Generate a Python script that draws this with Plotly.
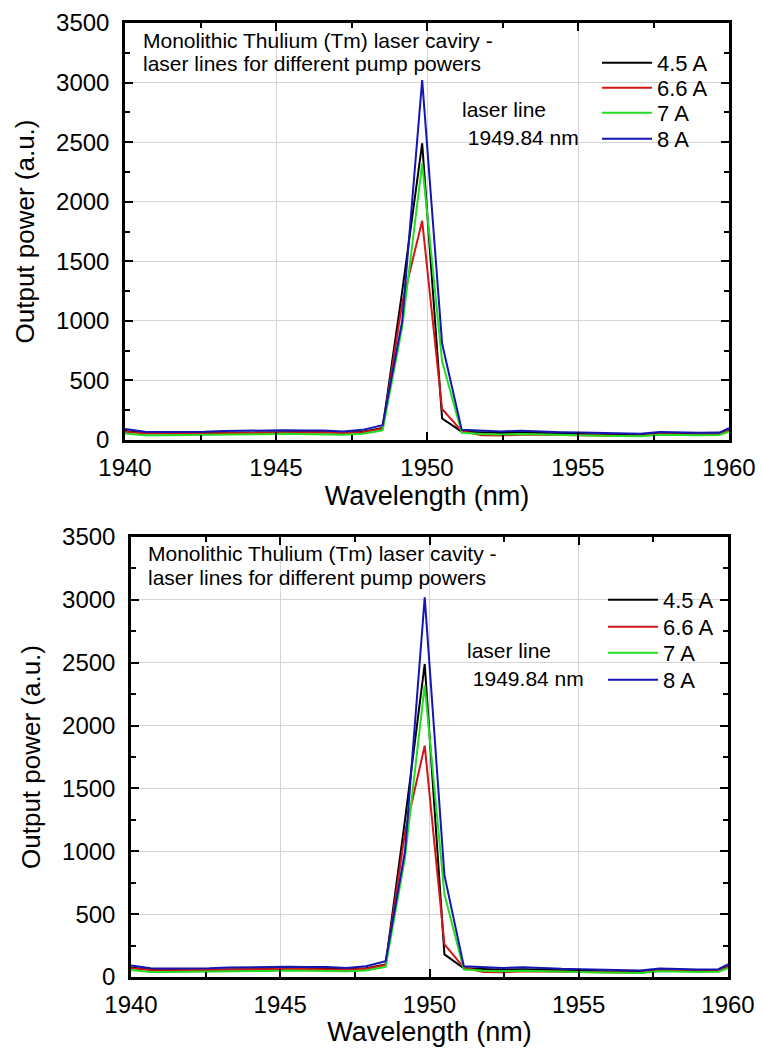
import plotly.graph_objects as go

# ---------------- data ----------------
wavelength = [1940.00, 1940.66, 1941.31, 1941.97, 1942.62, 1943.28, 1943.94, 1944.59,
              1945.25, 1945.90, 1946.56, 1947.22, 1947.87, 1948.53, 1949.18, 1949.84,
              1950.50, 1951.15, 1951.81, 1952.46, 1953.12, 1953.78, 1954.43, 1955.09,
              1955.74, 1956.40, 1957.06, 1957.71, 1958.37, 1959.02, 1959.68, 1960.00]

series_names = ["4.5 A", "6.6 A", "7 A", "8 A"]

p_4_5A = [75, 58, 56, 57, 58, 62, 64, 64, 68, 66, 67, 60, 70, 100, 1250, 2490,
          180, 70, 62, 58, 62, 56, 52, 50, 46, 42, 40, 55, 50, 48, 50, 85]
p_6_6A = [70, 55, 54, 55, 56, 60, 62, 62, 66, 64, 64, 58, 66, 95, 1150, 1840,
          260, 75, 40, 38, 45, 44, 42, 40, 38, 36, 34, 50, 46, 45, 47, 80]
p_7A   = [55, 40, 40, 41, 42, 46, 48, 48, 52, 50, 51, 45, 52, 80, 950, 2320,
          660, 60, 50, 46, 50, 45, 42, 40, 36, 34, 32, 45, 40, 40, 42, 70]
p_8A   = [92, 70, 68, 68, 70, 75, 78, 78, 82, 80, 80, 72, 85, 125, 1000, 3020,
          810, 85, 80, 72, 78, 70, 65, 62, 60, 55, 52, 68, 62, 60, 62, 100]

series_values = [p_4_5A, p_6_6A, p_7A, p_8A]
series_colors = ["#000000", "#d41515", "#22dd22", "#1515b4"]

x_ticks = [1940, 1945, 1950, 1955, 1960]
y_ticks = [0, 500, 1000, 1500, 2000, 2500, 3000, 3500]

titles = ["Monolithic Thulium (Tm) laser caviry -",
          "Monolithic Thulium (Tm) laser cavity -"]
subtitle = "laser lines for different pump powers"
line_label_1 = "laser line"
line_label_2 = " 1949.84 nm"

# ---------------- layout helpers ----------------
PAGE_W, PAGE_H = 763, 1055
BODY_MARGIN = 8          # default html body margin around the plot div
W, H = PAGE_W - BODY_MARGIN, PAGE_H - 2 * BODY_MARGIN
FONT = "Arial, 'Liberation Sans', sans-serif"


def px_x(x):
    """page pixel x -> paper fraction"""
    return (x - BODY_MARGIN) / W


def px_y(y):
    """page pixel y (from top) -> paper fraction"""
    return (H - (y - BODY_MARGIN)) / H


# panel pixel boxes (page coordinates) and text positions
panels = [
    dict(l=125, r=729, t=23, b=440, legend_x=597, legend_rows=[63, 88, 113, 139],
         txt_x=141, txt_y1=41, txt_y2=63, ll_x=460, ll_y1=110, ll_y2=137),
    dict(l=131, r=728, t=537, b=977, legend_x=603, legend_rows=[600, 627, 653, 680],
         txt_x=146, txt_y1=553, txt_y2=577, ll_x=465, ll_y1=650, ll_y2=678),
]

fig = go.Figure()
annotations = []
legend_layouts = {}
legend_counter = 0

for i, p in enumerate(panels):
    sfx = "" if i == 0 else "2"
    for k, (name, vals, col) in enumerate(zip(series_names, series_values, series_colors)):
        legend_counter += 1
        legend_name = "legend" if legend_counter == 1 else "legend%d" % legend_counter
        fig.add_trace(go.Scatter(
            x=wavelength, y=vals, mode="lines", name=name,
            line=dict(color=col, width=2),
            xaxis="x" + sfx, yaxis="y" + sfx, legend=legend_name,
        ))
        legend_layouts[legend_name] = dict(
            x=px_x(p["legend_x"]), y=px_y(p["legend_rows"][k]),
            xanchor="left", yanchor="middle",
            bgcolor="rgba(255,255,255,0)", borderwidth=0,
            font=dict(family=FONT, size=22, color="black"),
            itemwidth=50,
        )

    axis_common = dict(
        showline=True, linecolor="black", linewidth=2.5, mirror="ticks",
        ticks="inside", ticklen=8, tickwidth=2, tickcolor="black",
        showgrid=True, gridcolor="#d4d4d4", gridwidth=1,
        zeroline=False, automargin=False, ticklabeloverflow="allow",
        tickfont=dict(family=FONT, size=24, color="black"),
    )
    fig.update_layout(**{
        "xaxis" + sfx: dict(
            axis_common,
            domain=[px_x(p["l"]), px_x(p["r"])],
            anchor="y" + sfx,
            range=[1940, 1960], tickvals=x_ticks,
            minor=dict(dtick=2.5, ticks="inside", ticklen=5, tickwidth=2,
                       tickcolor="black", showgrid=False),
            ticklabelstandoff=4,
            title=dict(text="Wavelength (nm)", standoff=6,
                       font=dict(family=FONT, size=27, color="black")),
        ),
        "yaxis" + sfx: dict(
            axis_common,
            domain=[px_y(p["b"]), px_y(p["t"])],
            anchor="x" + sfx,
            range=[0, 3500], tickvals=y_ticks,
            minor=dict(dtick=250, ticks="inside", ticklen=5, tickwidth=2,
                       tickcolor="black", showgrid=False),
            ticklabelstandoff=8,
            title=dict(text="Output power (a.u.)", standoff=14,
                       font=dict(family=FONT, size=26, color="black")),
        ),
    })

    for txt, yy in [(titles[i], p["txt_y1"]), (subtitle, p["txt_y2"])]:
        annotations.append(dict(
            text=txt, xref="paper", yref="paper",
            x=px_x(p["txt_x"]), y=px_y(yy), xanchor="left", yanchor="middle",
            showarrow=False, font=dict(family=FONT, size=21, color="black"),
        ))
    for txt, yy in [(line_label_1, p["ll_y1"]), (line_label_2, p["ll_y2"])]:
        annotations.append(dict(
            text=txt, xref="paper", yref="paper",
            x=px_x(p["ll_x"]), y=px_y(yy), xanchor="left", yanchor="middle",
            showarrow=False, font=dict(family=FONT, size=21, color="black"),
        ))

fig.update_layout(**legend_layouts)
fig.update_layout(
    width=W, height=H,
    margin=dict(l=0, r=0, t=0, b=0),
    paper_bgcolor="white", plot_bgcolor="white",
    showlegend=True,
    annotations=annotations,
)

fig.write_html("out.html")
